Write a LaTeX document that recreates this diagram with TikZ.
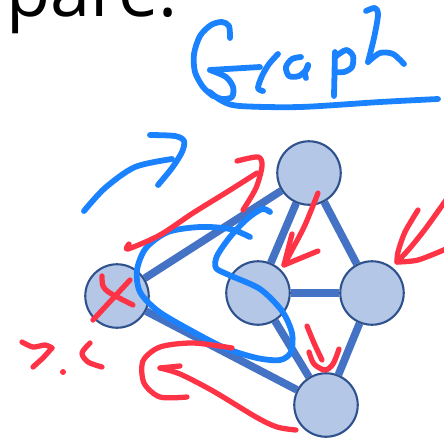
\documentclass[tikz,border=0pt]{standalone}
\usepackage{fontspec}
\setmainfont{Open Sans}
\usetikzlibrary{backgrounds}
\definecolor{umplere}{HTML}{B4C7E7}
\definecolor{contur}{HTML}{2F528F}
\definecolor{muchiecol}{HTML}{4472C4}
\definecolor{cernealaA}{HTML}{1A82FF}
\definecolor{cernealaR}{HTML}{FF3346}
\tikzset{
  nod/.style      = {circle, draw=contur, fill=umplere, line width=1.2pt,
                     minimum size=12.7mm, inner sep=0pt},
  muchie/.style   = {draw=muchiecol, line width=4.4pt},
  titlu/.style    = {font=\fontsize{41}{48}\selectfont, inner sep=0pt, anchor=base west},
  albastru/.style = {draw=cernealaA, line width=3.3pt, line cap=round, line join=round},
  rosu/.style     = {draw=cernealaR, line width=3pt, line cap=round, line join=round}
}

\begin{document}
\begin{tikzpicture}[x=0.02cm, y=-0.02cm]
        \useasboundingbox (0,0) rectangle (444,441);
        \node[titlu] (text) at (6,16) {pare.};

        % graful
        \node[nod] (sus)     at (309,173) {};
        \node[nod] (stanga)  at (117,296) {};
        \node[nod] (mijloc)  at (258,293) {};
        \node[nod] (dreapta) at (372,293) {};
        \node[nod] (jos)     at (326,405) {};

        \begin{scope}[on background layer]
            \draw[muchie] (stanga) -- (sus);
            \draw[muchie] (stanga) -- (jos);
            \draw[muchie] (sus) -- (mijloc);
            \draw[muchie] (sus) -- (dreapta);
            \draw[muchie] (mijloc) -- (dreapta);
            \draw[muchie] (mijloc) -- (jos);
            \draw[muchie] (dreapta) -- (jos);
        \end{scope}

        % scrisul de mana: Graph
        \draw[albastru] plot[smooth] coordinates {(230,38) (229,26) (222,22) (211,25) (200,36) (194,54) (195,72) (203,87) (213,96)};
        \draw[albastru] (260,67) -- (210,70);
        \draw[albastru] plot[smooth] coordinates {(210,70) (226,77) (233,87) (232,97) (222,99) (212,95)};
        \draw[albastru] plot[smooth] coordinates {(263,91) (258,88) (262,76) (269,64) (278,54)};
        \draw[albastru] plot[smooth] coordinates {(301,57) (292,59) (286,67) (289,76) (299,76) (307,69) (308,65)};
        \draw[albastru] plot[smooth] coordinates {(308,65) (305,73) (306,78)};
        \draw[albastru] (335,52) -- (334,96);
        \draw[albastru] plot[smooth] coordinates {(335,57) (346,50) (353,56) (352,67) (344,72) (335,72)};
        \draw[albastru] plot[smooth] coordinates {(366,11) (375,8) (378,15) (374,38) (368,62)};
        \draw[albastru] plot[smooth] coordinates {(368,62) (380,53) (393,54) (404,64)};
        \draw[albastru] plot[smooth] coordinates {(210,92) (222,101) (240,106) (300,107) (380,102) (438,99)};

        % sageti si adnotari
        \draw[albastru] plot[smooth] coordinates {(84,211) (105,188) (135,167) (172,159)};
        \draw[albastru] plot[smooth] coordinates {(150,135) (175,136) (184,141) (182,152) (172,168) (158,185)};
        \draw[albastru] plot[smooth] coordinates {(250,237) (230,229) (200,227) (168,232) (146,248) (137,270)
            (140,292) (158,311) (190,330) (225,348) (257,358) (280,360) (291,352) (292,333) (282,311)
            (260,289) (229,275) (216,268) (217,256) (230,237) (247,219) (262,209) (270,212)};

        \draw[rosu] plot[smooth] coordinates {(129,244) (128,249) (160,235) (193,213) (227,192) (257,173)};
        \draw[rosu] plot[smooth] coordinates {(237,161) (258,157) (262,166) (256,188) (243,210)};
        \draw[rosu] plot[smooth] coordinates {(102,276) (103,286) (110,293) (133,305)};
        \draw[rosu] (130,280) -- (93,320);
        \draw[rosu] plot[smooth] coordinates {(318,193) (305,225) (292,250) (284,265)};
        \draw[rosu] (292,234) -- (284,265) -- (318,251);
        \draw[rosu] plot[smooth] coordinates {(418,210) (405,232) (398,252) (397,262)};
        \draw[rosu] plot[smooth] coordinates {(399,260) (410,248) (426,228) (446,200)};
        \draw[rosu] plot[smooth] coordinates {(397,262) (418,260) (446,249)};
        \draw[rosu] plot[smooth] coordinates {(307,326) (314,343) (322,360)};
        \draw[rosu] plot[smooth] coordinates {(339,349) (333,364) (325,370) (314,364) (309,352)};
        \draw[rosu] plot[smooth] coordinates {(232,348) (193,343) (160,347) (143,361) (144,383) (160,397) (187,397)};
        \draw[rosu] plot[smooth] coordinates {(296,430) (277,427) (256,417) (213,391) (180,374) (160,368)};
        \draw[rosu] (160,368) -- (180,366);
        \draw[rosu] plot[smooth] coordinates {(22,342) (33,347) (45,345) (52,348)};
        \draw[rosu] (52,348) -- (43,358) -- (33,367);
        \fill[cernealaR] (63,372) circle (3);
        \draw[rosu] plot[smooth] coordinates {(90,343) (82,353) (88,362) (102,367)};
\end{tikzpicture}
\end{document}
